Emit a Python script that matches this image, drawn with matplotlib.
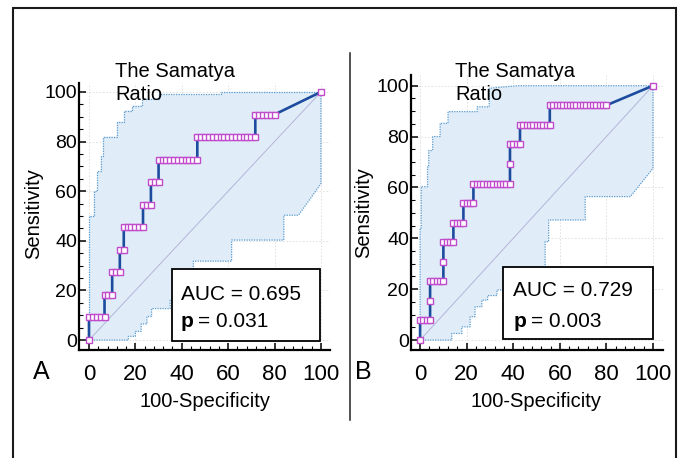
import numpy as np
import matplotlib
matplotlib.use('Agg')
import matplotlib.pyplot as plt
from matplotlib.patches import Rectangle
from matplotlib.lines import Line2D
from matplotlib.ticker import FixedLocator

plt.rcParams['font.family'] = ['Liberation Sans', 'DejaVu Sans']

# ---- panel A : ROC points (100-specificity, sensitivity)
fpr_a = [0, 0, 1.7, 3.3, 5, 6.7, 6.7, 8.3, 10, 10, 11.7, 13.3, 13.3, 15,
         15, 16.7, 18.3, 20, 21.7, 23.3, 23.3, 25, 26.7, 26.7, 28.3, 30,
         30, 31.7, 33.3, 35, 36.7, 38.3, 40, 41.7, 43.3, 45, 46.7,
         46.7, 48.3, 50, 51.7, 53.3, 55, 56.7, 58.3, 60, 61.7, 63.3, 65, 66.7, 68.3, 70, 71.7,
         71.7, 73.3, 75, 76.7, 78.3, 80, 100]
tpr_a = [0, 9.1, 9.1, 9.1, 9.1, 9.1, 18.2, 18.2, 18.2, 27.3, 27.3, 27.3, 36.4, 36.4,
         45.5, 45.5, 45.5, 45.5, 45.5, 45.5, 54.5, 54.5, 54.5, 63.6, 63.6, 63.6,
         72.7, 72.7, 72.7, 72.7, 72.7, 72.7, 72.7, 72.7, 72.7, 72.7, 72.7,
         81.8, 81.8, 81.8, 81.8, 81.8, 81.8, 81.8, 81.8, 81.8, 81.8, 81.8, 81.8, 81.8, 81.8, 81.8, 81.8,
         90.9, 90.9, 90.9, 90.9, 90.9, 90.9, 100]

# confidence band A
up_xa = [0, 0, 2, 2, 3.5, 3.5, 5, 5, 6, 6, 12, 12, 15, 15, 18.5, 18.5, 23, 23, 30, 30, 57, 57, 100]
up_ya = [0, 50, 50, 60, 60, 68, 68, 74, 74, 82, 82, 88, 88, 92.5, 92.5, 94.5, 94.5, 97, 97, 99, 99, 100, 100]
lo_xa = [0, 17, 17, 20, 20, 22.5, 22.5, 25, 25, 27, 27, 35, 35, 37, 37, 39, 39, 41, 41, 45, 45,
         61.5, 61.5, 84, 84, 90.3, 100, 100]
lo_ya = [0, 0, 1.5, 1.5, 3.5, 3.5, 6.5, 6.5, 9.5, 9.5, 12.7, 12.7, 16, 16, 20, 20, 24, 24, 28, 28, 31.8,
         31.8, 40.3, 40.3, 50.3, 50.3, 63, 100]

# ---- panel B
fpr_b = [0, 0, 1.4, 2.9, 4.3, 4.3, 4.3, 5.7, 7.1, 8.6, 10, 10, 10, 11.4, 12.9, 14.3,
         14.3, 15.7, 17.1, 18.6, 18.6, 20, 21.4, 22.9,
         22.9, 24.3, 25.7, 27.1, 28.6, 30, 31.4, 32.9, 34.3, 35.7, 37.1, 38.6,
         38.6, 38.6, 40, 41.4, 42.9,
         42.9, 44.3, 45.7, 47.1, 48.6, 50, 51.4, 52.9, 54.3, 55.7,
         55.7, 57.1, 58.6, 60, 61.4, 62.9, 64.3, 65.7, 67.1, 68.6, 70, 71.4, 72.9, 74.3, 75.7, 77.1, 78.6, 80,
         100]
tpr_b = [0, 7.7, 7.7, 7.7, 7.7, 15.4, 23.1, 23.1, 23.1, 23.1, 23.1, 30.8, 38.5, 38.5, 38.5, 38.5,
         46.2, 46.2, 46.2, 46.2, 53.8, 53.8, 53.8, 53.8,
         61.5, 61.5, 61.5, 61.5, 61.5, 61.5, 61.5, 61.5, 61.5, 61.5, 61.5, 61.5,
         69.2, 76.9, 76.9, 76.9, 76.9,
         84.6, 84.6, 84.6, 84.6, 84.6, 84.6, 84.6, 84.6, 84.6, 84.6,
         92.3, 92.3, 92.3, 92.3, 92.3, 92.3, 92.3, 92.3, 92.3, 92.3, 92.3, 92.3, 92.3, 92.3, 92.3, 92.3, 92.3, 92.3,
         100]

up_xb = [0, 0, 0.5, 0.5, 3.2, 3.2, 3.7, 3.7, 5.4, 5.4, 8.6, 8.6, 12, 12, 24.5, 24.5, 29.7, 29.7, 42, 100]
up_yb = [0, 44, 44, 60.3, 60.3, 68, 68, 74.5, 74.5, 80, 80, 85.2, 85.2, 89.8, 89.8, 91.7, 91.7, 99, 100, 100]
lo_xb = [0, 13.6, 13.6, 17.9, 17.9, 21.5, 21.5, 23.6, 23.6, 26.5, 26.5, 29, 29, 33, 33, 40, 40, 47, 47,
         53.7, 53.7, 55.2, 55.2, 70.9, 70.9, 90.3, 100, 100]
lo_yb = [0, 0, 2.6, 2.6, 5.2, 5.2, 9.2, 9.2, 13.1, 13.1, 15.7, 15.7, 17.5, 17.5, 19.7, 19.7, 23, 23, 27,
         27, 38.7, 38.7, 47.2, 47.2, 56.4, 56.4, 67.5, 100]

auc_txt = ['AUC = 0.695', 'AUC = 0.729']
p_txt = ['= 0.031', '= 0.003']
letters = ['A', 'B']

W, H = 681, 458
fig = plt.figure(figsize=(W / 100, H / 100), dpi=100)


def fx(px):
    return px / W


def fy(py):
    return 1 - py / H


# pixel layout of each panel: axes box, limits, label spots
layout = [
    dict(box=(79, 83, 330, 350), xlim=(-4.3, 103.9), ylim=(-4.0, 103.6),
         title=(115, 62), sens=(34, 214), spec=(205, 392), letter=(41.5, 372),
         auc_box=(172, 269, 320, 341), auc=(181, 300), p=(181, 327), eq=(198, 327)),
    dict(box=(411, 75, 663, 350), xlim=(-3.9, 104.3), ylim=(-3.9, 104.2),
         title=(455, 62), sens=(364, 213), spec=(536, 392), letter=(363, 372),
         auc_box=(503, 267, 653, 339), auc=(513, 296), p=(514, 327), eq=(531, 327)),
]
curves = [(fpr_a, tpr_a, up_xa, up_ya, lo_xa, lo_ya),
          (fpr_b, tpr_b, up_xb, up_yb, lo_xb, lo_yb)]

for i, (L, (fpr, tpr, ux, uy, lx, ly)) in enumerate(zip(layout, curves)):
    x0, y0, x1, y1 = L['box']
    ax = fig.add_axes([fx(x0), fy(y1), (x1 - x0) / W, (y1 - y0) / H])
    ax.set_xlim(*L['xlim'])
    ax.set_ylim(*L['ylim'])

    # confidence band
    ax.fill(np.r_[ux, lx[::-1]], np.r_[uy, ly[::-1]], color='#e0edf8', lw=0, zorder=1)
    ax.plot(ux, uy, ls=(0, (1, 1)), color='#5b9bcf', lw=0.9, zorder=2)
    ax.plot(lx, ly, ls=(0, (1, 1)), color='#5b9bcf', lw=0.9, zorder=2)
    ax.plot([0, 100], [0, 100], color='#b4b4d8', lw=0.7, zorder=2)

    ax.plot(fpr, tpr, '-', color='#1d4c9e', lw=1.9, zorder=3)
    ax.plot(fpr, tpr, 's', ms=4.2, mfc='white', mec='#c04ccc', mew=1.0, zorder=4)

    ax.grid(True, which='major', color='#dddddd', ls=(0, (2, 2)), lw=0.6)
    ax.set_axisbelow(True)
    for s in ['top', 'right']:
        ax.spines[s].set_visible(False)
    for s in ['left', 'bottom']:
        ax.spines[s].set_linewidth(1.6)

    ax.set_xticks(range(0, 101, 20))
    ax.set_yticks(range(0, 101, 20))
    ax.xaxis.set_minor_locator(FixedLocator(np.arange(0, 101, 4)))
    ax.yaxis.set_minor_locator(FixedLocator(np.arange(0, 101, 5)))
    ax.tick_params(which='both', direction='in', color='black')
    ax.tick_params(which='major', length=5, width=1.1)
    ax.tick_params(which='minor', length=2.8, width=0.8)
    ax.tick_params(axis='y', labelsize=14, pad=1.5)
    ax.tick_params(axis='x', labelsize=16, pad=10)
    for t in ax.get_xticklabels():
        t.set_family(['Liberation Sans Narrow', 'Liberation Sans'])

    fig.text(fx(L['title'][0]), fy(L['title'][1]), 'The Samatya\nRatio',
             ha='left', va='top', fontsize=14.5, linespacing=1.25)
    fig.text(fx(L['sens'][0]), fy(L['sens'][1]), 'Sensitivity', rotation=90,
             ha='center', va='center', fontsize=14.5)
    fig.text(fx(L['spec'][0]), fy(L['spec'][1]), '100-Specificity',
             ha='center', va='top', fontsize=14.5)
    fig.text(fx(L['letter'][0]), fy(L['letter'][1]), letters[i],
             ha='center', va='center', fontsize=18)

    bx0, by0, bx1, by1 = L['auc_box']
    fig.add_artist(Rectangle((fx(bx0), fy(by1)), (bx1 - bx0) / W, (by1 - by0) / H,
                             transform=fig.transFigure, fc='white', ec='black', lw=1.3, zorder=5))
    fig.text(fx(L['auc'][0]), fy(L['auc'][1]), auc_txt[i], va='baseline', fontsize=15, zorder=6)
    fig.text(fx(L['p'][0]), fy(L['p'][1]), 'p', va='baseline', fontsize=15,
             fontweight='bold', zorder=6)
    fig.text(fx(L['eq'][0]), fy(L['eq'][1]), p_txt[i], va='baseline', fontsize=15, zorder=6)

# outer frame and divider
fig.add_artist(Rectangle((fx(12.5), fy(480)), (676 - 12.5) / W, (480 - 8) / H,
                         transform=fig.transFigure, fill=False, ec='#1a1a1a', lw=1.5))
fig.add_artist(Line2D([fx(350), fx(350)], [fy(53), fy(420)],
                      transform=fig.transFigure, color='#222222', lw=1.1))

fig.savefig('out.png', dpi=100)
